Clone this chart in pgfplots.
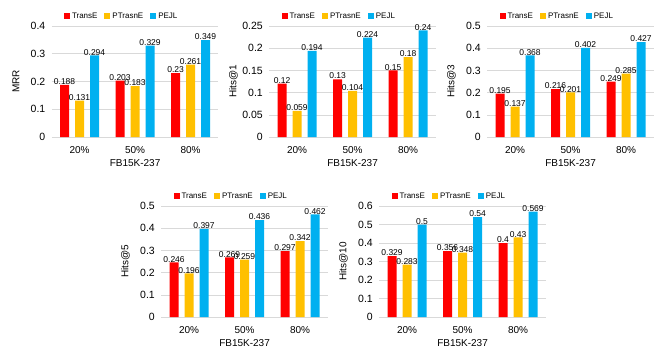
\documentclass[border=0pt]{standalone}
\usepackage{fontspec}
\setmainfont{Liberation Sans}
\usepackage{pgfplots}
\pgfplotsset{compat=1.18}
\definecolor{cT}{HTML}{FF0000}
\definecolor{cP}{HTML}{FFC000}
\definecolor{cE}{HTML}{00B0F0}
\definecolor{gridc}{HTML}{D9D9D9}
\pgfplotsset{
  sub/.style={
    scale only axis, width=166.5pt, height=111pt,
    xmin=-0.5, xmax=2.5, ymin=0,
    ybar=6pt, bar width=9pt,
    xtick={0,1,2}, xticklabels={20\%,50\%,80\%},
    axis line style={draw=none},
    major tick length=0pt,
    ymajorgrids, grid style={gridc, line width=0.6pt},
    /pgf/number format/assume math mode=true,
    scaled y ticks=false,
    yticklabel style={font=\fontsize{10.5}{11}\selectfont, /pgf/number format/fixed, /pgf/number format/precision=2, xshift=-3pt},
    xticklabel style={font=\fontsize{10}{11}\selectfont, yshift=-6pt},
    xlabel={FB15K-237},
    xlabel style={font=\fontsize{10}{11}\selectfont, at={(axis description cs:0.5,-0.234)}, anchor=center},
    ylabel style={font=\fontsize{10}{11}\selectfont, at={(axis description cs:-0.215,0.5)}, anchor=center},
    legend style={at={(axis description cs:0.42,1.09)}, anchor=center, draw=none, fill=none,
      legend columns=3, font=\fontsize{8}{9}\selectfont, inner sep=0pt,
      /tikz/every even column/.append style={column sep=5pt}},
    point meta=explicit symbolic,
    nodes near coords,
    every node near coord/.append style={font=\fontsize{8.5}{9}\selectfont, inner sep=0pt, anchor=south, text=black},
  },
  sq/.style={draw=none, fill=#1, legend image code/.code={\fill[#1] (0pt,-3pt) rectangle (6pt,3pt);}},
}
\begin{document}
\begin{tikzpicture}
\useasboundingbox (0,0) rectangle (663pt,-356pt);
% MRR
\begin{axis}[sub, at={(51.8pt,-137pt)}, anchor=south west, ymax=0.4, ytick={0,0.1,0.2,0.3,0.4}, ylabel={MRR}]
\addplot[sq=cT] coordinates {(0,0.188)[0.188] (1,0.203)[0.203] (2,0.23)[0.23]};
\addplot[sq=cP] coordinates {(0,0.131)[0.131] (1,0.183)[0.183] (2,0.261)[0.261]};
\addplot[sq=cE] coordinates {(0,0.294)[0.294] (1,0.329)[0.329] (2,0.349)[0.349]};
\legend{TransE,PTrasnE,PEJL}
\end{axis}
% Hits@1
\begin{axis}[sub, at={(269.3pt,-137pt)}, anchor=south west, ymax=0.25, ytick={0,0.05,0.1,0.15,0.2,0.25}, ylabel={Hits@1}]
\addplot[sq=cT] coordinates {(0,0.12)[0.12] (1,0.13)[0.13] (2,0.15)[0.15]};
\addplot[sq=cP] coordinates {(0,0.059)[0.059] (1,0.104)[0.104] (2,0.18)[0.18]};
\addplot[sq=cE] coordinates {(0,0.194)[0.194] (1,0.224)[0.224] (2,0.24)[0.24]};
\legend{TransE,PTrasnE,PEJL}
\end{axis}
% Hits@3
\begin{axis}[sub, at={(487.3pt,-137pt)}, anchor=south west, ymax=0.5, ytick={0,0.1,0.2,0.3,0.4,0.5}, ylabel={Hits@3}]
\addplot[sq=cT] coordinates {(0,0.195)[0.195] (1,0.216)[0.216] (2,0.249)[0.249]};
\addplot[sq=cP] coordinates {(0,0.137)[0.137] (1,0.201)[0.201] (2,0.285)[0.285]};
\addplot[sq=cE] coordinates {(0,0.368)[0.368] (1,0.402)[0.402] (2,0.427)[0.427]};
\legend{TransE,PTrasnE,PEJL}
\end{axis}
% Hits@5
\begin{axis}[sub, at={(161.3pt,-317pt)}, anchor=south west, ymax=0.5, ytick={0,0.1,0.2,0.3,0.4,0.5}, ylabel={Hits@5}]
\addplot[sq=cT] coordinates {(0,0.246)[0.246] (1,0.269)[0.269] (2,0.297)[0.297]};
\addplot[sq=cP] coordinates {(0,0.196)[0.196] (1,0.259)[0.259] (2,0.342)[0.342]};
\addplot[sq=cE] coordinates {(0,0.397)[0.397] (1,0.436)[0.436] (2,0.462)[0.462]};
\legend{TransE,PTrasnE,PEJL}
\end{axis}
% Hits@10
\begin{axis}[sub, at={(379.3pt,-317pt)}, anchor=south west, ymax=0.6, ytick={0,0.1,0.2,0.3,0.4,0.5,0.6}, ylabel={Hits@10}]
\addplot[sq=cT] coordinates {(0,0.329)[0.329] (1,0.356)[0.356] (2,0.4)[0.4]};
\addplot[sq=cP] coordinates {(0,0.283)[0.283] (1,0.348)[0.348] (2,0.43)[0.43]};
\addplot[sq=cE] coordinates {(0,0.5)[0.5] (1,0.54)[0.54] (2,0.569)[0.569]};
\legend{TransE,PTrasnE,PEJL}
\end{axis}
\end{tikzpicture}
\end{document}
